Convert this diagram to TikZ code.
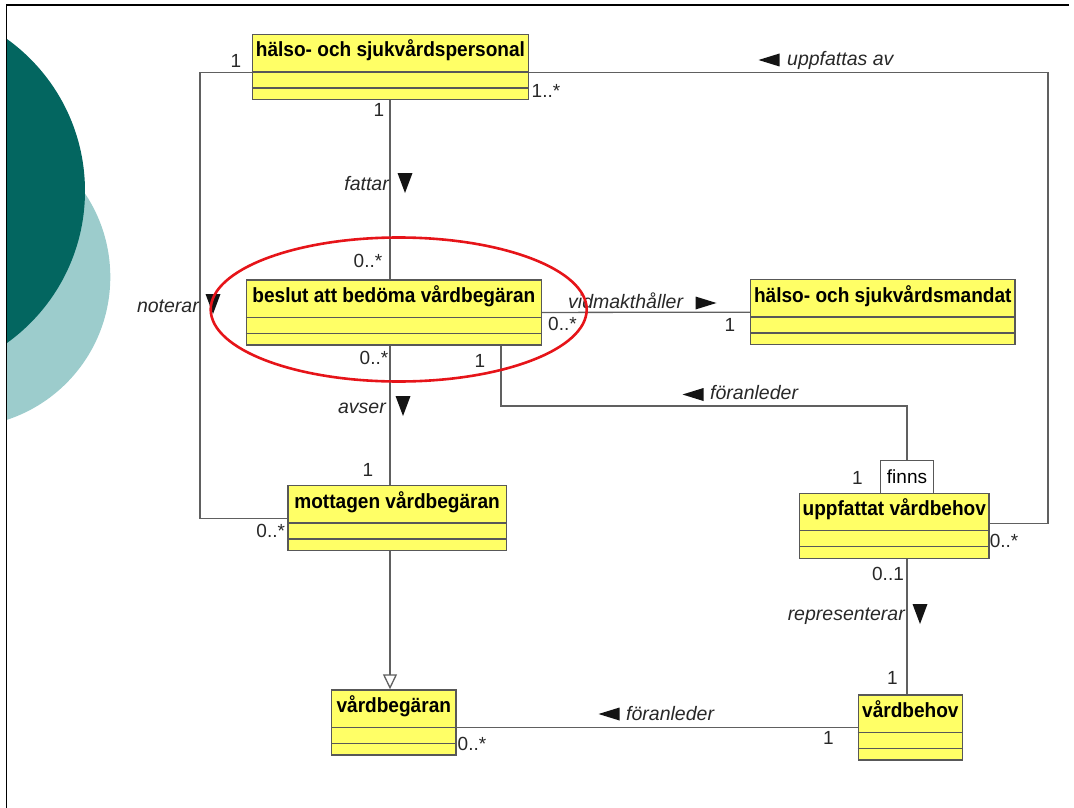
\documentclass[tikz,border=0pt]{standalone}
\usepackage{graphicx}
\usepackage{fontspec}
\setmainfont{Liberation Sans}
\usetikzlibrary{calc,arrows.meta}

\definecolor{clsfill}{RGB}{255,255,102}
\definecolor{clsline}{RGB}{88,88,88}
\definecolor{wirecol}{RGB}{96,96,96}
\definecolor{ringred}{RGB}{230,20,25}
\definecolor{tealdark}{RGB}{3,102,96}
\definecolor{teallight}{RGB}{156,204,204}
\definecolor{labelcol}{RGB}{40,40,40}

\tikzset{
  cls/.style={draw=clsline, line width=1.3pt, fill=clsfill, minimum height=65pt,
    inner sep=0pt, anchor=north west},
  clstitle/.style={font=\fontsize{20.5}{23}\selectfont\bfseries, inner sep=0pt, anchor=base},
  divider/.style={draw=clsline, line width=1.3pt},
  wire/.style={draw=wirecol, line width=1.3pt},
  mult/.style={font=\fontsize{19}{22}\selectfont, inner sep=0pt, text=labelcol},
  role/.style={font=\fontsize{19.5}{22}\selectfont\itshape, inner sep=0pt, text=labelcol},
  dirfill/.style={fill=black!92},
  finnsbox/.style={draw=clsline, line width=1.3pt, fill=white, anchor=north west,
    minimum width=52.7pt, minimum height=32.7pt, inner sep=0pt,
    font=\fontsize{19}{22}\selectfont}
}

% one UML class: name, top-left x, top-left y, width, title
\newcommand\umlclass[5]{%
  \node[cls, minimum width=#4pt] (#1) at (#2,#3) {};
  \node[clstitle] (#1-t) at ([yshift=-23pt]#1.north) {\scalebox{0.93}[1]{#5}};
  \draw[divider] ([yshift=-38pt]#1.north west) -- ([yshift=-38pt]#1.north east);
  \draw[divider] ([yshift=-54pt]#1.north west) -- ([yshift=-54pt]#1.north east);
}
% direction markers of association names
\newcommand\dirDn[2]{\fill[dirfill,shift={(#1,#2)}] (-7.5,-10) -- (7.5,-10) -- (0,10) -- cycle;}
\newcommand\dirRt[2]{\fill[dirfill,shift={(#1,#2)}] (-10.5,-6.5) -- (-10.5,6.5) -- (10.5,0) -- cycle;}
\newcommand\dirLt[2]{\fill[dirfill,shift={(#1,#2)}] (10.5,-6.5) -- (10.5,6.5) -- (-10.5,0) -- cycle;}

\begin{document}
\begin{tikzpicture}[x=1pt,y=-1pt]
\useasboundingbox (0,0) rectangle (1074,808);

% slide decoration
\begin{scope}
  \clip (6.5,5) rectangle (1074,808);
  \fill[teallight] (-40,277) circle [radius=150.3pt];
  \fill[tealdark] (-102,191) circle [radius=187pt];
\end{scope}
\draw[black, line width=1.6pt] (1069,5) -- (6.5,5) -- (6.5,808);

% classes
\umlclass{personal}{251.7}{34}{276.3}{hälso- och sjukvårdspersonal}
\umlclass{beslut}{245.7}{279.3}{295}{beslut att bedöma vårdbegäran}
\umlclass{mandat}{750}{279}{264.3}{hälso- och sjukvårdsmandat}
\umlclass{uppfattat}{799}{492.7}{189.3}{uppfattat vårdbehov}
\umlclass{mottagen}{287.3}{485}{218.4}{mottagen vårdbegäran}
\umlclass{vbegaran}{331}{689.3}{124.3}{vårdbegäran}
\umlclass{vbehov}{857.7}{694.3}{104}{vårdbehov}

% qualifier
\node[finnsbox] (finns) at (880,460) {finns};

% routing helpers
\coordinate (leftX) at (200,0);
\coordinate (rightX) at (1048,0);
\coordinate (spineX) at (390,0);
\coordinate (outX) at (501,0);
\coordinate (bendY) at (0,406);
\coordinate (pLeft) at ([yshift=-5.5pt]personal.west);
\coordinate (pRight) at ([yshift=-5.5pt]personal.east);
\coordinate (uIn) at ([yshift=2.5pt]uppfattat.east);

% associations
\draw[wire] (pLeft) -| (leftX |- mottagen.west) -- (mottagen.west);
\draw[wire] (pRight) -| (rightX |- uIn) -- (uIn);
\draw[wire] (spineX |- personal.south) -- (spineX |- beslut.north);
\draw[wire] (spineX |- beslut.south) -- (spineX |- mottagen.north);
\draw[wire] (beslut.east) -- (mandat.west);
\draw[wire] (outX |- beslut.south) |- (bendY -| finns.north) -- (finns.north);
\draw[wire] (finns.south |- uppfattat.south) -- (finns.south |- vbehov.north);
\draw[wire] (vbehov.west) -- (vbehov.west -| vbegaran.east);
% generalization
\draw[wire, -{Triangle[open,length=15pt,width=14pt]}] (spineX |- mottagen.south) -- (spineX |- vbegaran.north);

% association names
\node[role, anchor=base east] (nFattar) at (389,190) {fattar};
\dirDn{405}{183}
\node[role, anchor=base east] (nNoterar) at (199,312) {noterar};
\dirDn{213}{304}
\node[role, anchor=base east] (nAvser) at (386,413.5) {avser};
\dirDn{403}{406}
\node[role, anchor=base east] (nRep) at (905,620.5) {representerar};
\dirDn{920}{614}
\node[role, anchor=base west] (nVid) at (568,308.3) {vidmakthåller};
\dirRt{706}{303}
\node[role, anchor=base west] (nFor1) at (710,399.5) {föranleder};
\dirLt{693}{394.5}
\node[role, anchor=base west] (nUpp) at (787,66) {uppfattas av};
\dirLt{769}{60}
\node[role, anchor=base west] (nFor2) at (626,720) {föranleder};
\dirLt{609}{714}

% multiplicities
\node[mult] (m1) at (236,61) {1};
\node[mult, anchor=west] (m2) at (531.5,91) {1..*};
\node[mult] (m3) at (379,110) {1};
\node[mult] (m4) at (368,260.5) {0..*};
\node[mult] (m5) at (562.5,323.5) {0..*};
\node[mult] (m6) at (730,324.5) {1};
\node[mult] (m7) at (374,358) {0..*};
\node[mult] (m8) at (480,361) {1};
\node[mult] (m9) at (368,469.5) {1};
\node[mult] (m10) at (270.7,531) {0..*};
\node[mult] (m11) at (857.3,478) {1};
\node[mult] (m12) at (1004,541) {0..*};
\node[mult] (m13) at (888,574) {0..1};
\node[mult] (m14) at (892.5,677.5) {1};
\node[mult] (m15) at (828.3,738) {1};
\node[mult] (m16) at (472,743.7) {0..*};

% highlight ring
\draw[ringred, line width=2.6pt] (398.7,309.5) ellipse [x radius=188pt, y radius=72pt];
\end{tikzpicture}
\end{document}
